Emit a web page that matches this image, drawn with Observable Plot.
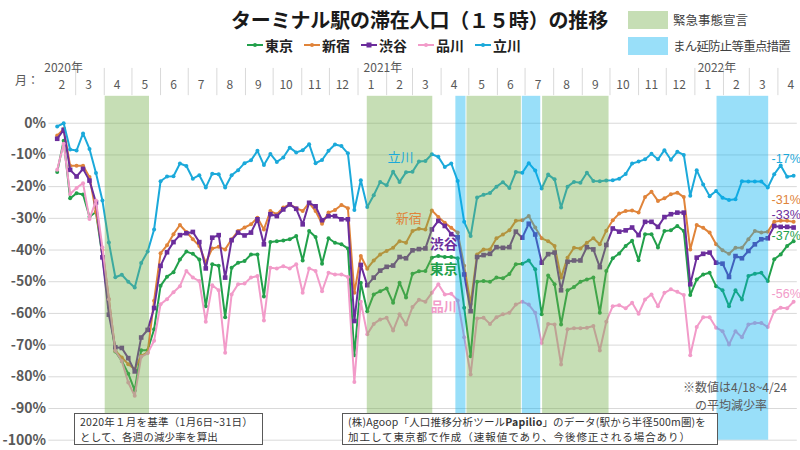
<!DOCTYPE html>
<html lang="ja"><head><meta charset="utf-8">
<script src="https://cdn.jsdelivr.net/npm/d3@7"></script>
<script src="https://cdn.jsdelivr.net/npm/@observablehq/plot@0.6"></script>
<style>
html,body{margin:0;padding:0;background:#fff;}
#wrap{position:relative;width:800px;height:450px;overflow:hidden;font-family:"Noto Sans CJK JP","Noto Sans",sans-serif;}
#chart{position:absolute;left:0;top:0;}
.ov{position:absolute;white-space:nowrap;line-height:1;}
.fit{display:inline-block;white-space:nowrap;}
.box{position:absolute;border:1px solid #595959;background:#fff;box-sizing:border-box;padding:0 0 0 5px;font-size:10.5px;color:#333;}
.box .fit{display:block;width:max-content;line-height:15.3px;height:15.3px;overflow:visible;}
#legend{display:flex;align-items:center;gap:11px;font-size:14px;font-weight:bold;color:#222;}
#legend .it{display:flex;align-items:center;}
#legend svg{margin-right:2px;}
.sw{position:absolute;width:40px;height:18px;}
.swt{position:absolute;font-size:12.5px;color:#404040;line-height:1;}
</style></head><body>
<div id="wrap">
  <div id="chart"></div>
  <div class="ov" style="left:231px;top:10px;font-size:20px;font-weight:bold;color:#1a1a1a;"><span class="fit" data-w="377">ターミナル駅の滞在人口（１５時）の推移</span></div>
  <div class="ov" id="legend" style="left:247px;top:38px;"></div>
  <div class="sw" style="left:628px;top:11px;background:rgba(112,173,71,0.4);"></div>
  <div class="swt" style="left:673px;top:14px;"><span class="fit" data-w="75">緊急事態宣言</span></div>
  <div class="sw" style="left:628px;top:37px;background:rgba(0,176,240,0.4);"></div>
  <div class="swt" style="left:673px;top:40px;"><span class="fit" data-w="117">まん延防止等重点措置</span></div>
  <div class="ov" style="left:15px;top:74px;font-size:12px;color:#595959;">月：</div>
  <div class="box" style="left:74px;top:413px;width:189px;height:32px;">
    <div class="fit" data-w="173">2020年１月を基準（1月6日~31日）</div>
    <div class="fit" data-w="138">として、各週の減少率を算出</div>
  </div>
  <div class="box" style="left:342px;top:413px;width:376px;height:32px;">
    <div class="fit" data-w="358"><span>(株)Agoop「人口推移分析ツール</span><b>Papilio</b><span>」のデータ(駅から半径500m圏)を</span></div>
    <div class="fit" data-w="343">加工して東京都で作成（速報値であり、今後修正される場合あり）</div>
  </div>
  <div class="ov" style="left:683px;top:378px;font-size:12px;line-height:17.5px;color:#595959;">※数値は4/18~4/24<br>　の平均減少率</div>
</div>
<script>
// ---- data (weekly, starting week of 2020-02-10, % change vs Jan 2020) ----
const seriesNames = ["東京", "新宿", "渋谷", "品川", "立川"];
const tokyo = [-15.4,-5.5,-23.7,-22.1,-22.5,-29.5,-28,-42,-58,-72,-75,-79,-84.3,-71.6,-71.6,-65,-51.3,-48.4,-47,
 -43,-40.5,-41.2,-43,-57.7,-44.5,-45,-61.2,-45.6,-44,-43.5,-41.4,-41.4,-54.7,-37.5,-37.2,-37,-36.6,-35.6,
 -43.3,-34,-35.9,-44.3,-36.3,-37.7,-38.2,-39.5,-73.2,-50.3,-59.3,-54,-53,-52.1,-56.6,-50.3,-55,-47.5,-46.7,
 -46.6,-42.4,-41.9,-42.2,-42.2,-42.6,-58.2,-73.5,-50,-49.8,-50,-48.7,-48.9,-47.6,-44.5,-44.3,-43.3,-46.1,-60.3,-48,
 -50.8,-63.5,-52.7,-51.7,-50,-49.3,-48.7,-59.8,-46.6,-42.6,-41.1,-38.7,-37.1,-43.2,-35,-35,-39.2,-34,-33.8,
 -32.4,-34,-54.2,-49.3,-47.7,-47.2,-51.4,-52.7,-57.7,-52.7,-55.6,-48.2,-47.5,-47.2,-49.8,-42.9,-41.4,-38.7,-37.2];
const shinjuku = [-3.9,-1.8,-13.4,-13.4,-13.4,-17,-28,-40,-55.5,-71.8,-73.9,-76,-77.6,-73.4,-72.3,-56,-41,-38.5,-35,
 -32.1,-34.3,-36.6,-38.7,-44,-39.5,-39,-39.8,-36.6,-34,-32.9,-31.9,-29.8,-33.5,-27.7,-28.7,-26.6,-25.6,-26.8,
 -27.7,-25.1,-27.7,-31.7,-28.2,-27.4,-25.8,-26.8,-53.5,-41.9,-45.9,-43.3,-41.4,-40.3,-39.3,-37.2,-37.7,-34,-33.3,
 -33.5,-27.5,-29.6,-31.4,-33,-34.5,-45,-57,-41.4,-39.8,-39.8,-36.3,-35.1,-33.8,-30.8,-30.6,-29.3,-32.9,-36.3,-37.2,
 -38.7,-48.7,-42.4,-39.3,-39.5,-37.7,-36.3,-38.2,-33.9,-30.6,-28.5,-27.7,-27.5,-28.2,-23.3,-21.6,-24.5,-23.7,-22.4,
 -21.9,-23.3,-39.8,-32.1,-33,-34.5,-38.2,-40.1,-41.2,-39.3,-39.3,-36.6,-34,-34.5,-34.2,-31.1,-30.8,-30.8,-31.1];
const shibuya = [-4.9,-2.1,-14.7,-16.8,-14.4,-18.1,-25,-42.3,-60.4,-70.7,-70.9,-74.1,-78.3,-67.6,-65.2,-58.3,-45,-40.7,-37.5,
 -35.3,-34.7,-34.3,-37.5,-45.8,-36.1,-35.3,-48.7,-36.9,-34.5,-35.4,-34.5,-30.3,-38.2,-28.7,-29.3,-27.2,-25.6,-27,
 -31.9,-25.1,-26.2,-30.6,-29.3,-29.3,-30.3,-30.3,-62.4,-44.7,-51.1,-48.7,-46.5,-45.3,-44.9,-42.2,-42.6,-40.1,-39.7,
 -39.5,-33.5,-30.8,-32.4,-35,-36,-47.7,-59.3,-42.2,-41.6,-41.2,-39.1,-39.3,-39.1,-34.2,-36.1,-31.7,-35.1,-44,-41.3,
 -40.8,-52.7,-43.7,-43.3,-43.3,-39.1,-39.8,-45.4,-38.4,-33.2,-34.2,-33.8,-32.9,-35.3,-31.1,-31.1,-32.7,-29.6,-28.7,
 -28.2,-28.2,-50.8,-42.4,-41.2,-40.8,-44,-44.3,-48.5,-41.9,-42.6,-40.3,-38.2,-36.6,-36.3,-32.4,-32.7,-32.7,-32.9];
const shinagawa = [-14.7,-6.5,-22.3,-20.4,-18.9,-30.2,-24.4,-39.2,-55.5,-71.8,-75,-81.8,-86,-73.7,-72.6,-68.6,-57.1,-55.5,-53.3,
 -51.4,-46.6,-48.7,-49.8,-62.6,-51.1,-52.7,-72.4,-54,-50.8,-50.6,-48.7,-48.2,-62.2,-45.6,-45.8,-45.1,-45.8,-44.5,
 -53.5,-45.8,-46.6,-53,-47.2,-47.7,-47.7,-48.5,-81.6,-56.3,-66.6,-63.3,-61.9,-61.4,-65.4,-60.3,-63.5,-58,-55.7,
 -56.3,-53.5,-50.8,-54,-53.8,-55.9,-67.5,-79.3,-61.6,-61.4,-63.3,-61.2,-60.3,-59.8,-57.2,-56.3,-57.2,-59.8,-69.3,-63.3,
 -63.5,-76.1,-65,-64.7,-64.7,-64.5,-64,-71.7,-62.6,-57.7,-57.4,-58.4,-56.6,-60.1,-55.6,-54,-57.7,-53.5,-52.4,
 -53.2,-54.2,-73.2,-64.3,-61.2,-61.2,-64.5,-65.6,-69.8,-65.6,-67.5,-63.5,-63,-63,-64.3,-59.3,-58.2,-58.4,-56.3];
const tachikawa = [-1,0,-8.3,-8.6,-3.2,-8.1,-15.7,-24.4,-37.6,-48.6,-47.8,-50,-51.8,-44.1,-40.5,-33.5,-18.3,-16.8,-16.7,
 -12.7,-13.5,-17.5,-16.4,-20.3,-15.9,-16.1,-20.3,-16.4,-14.8,-12.6,-11.7,-8.7,-13.2,-9.7,-12.2,-10.8,-7.7,-9.2,
 -8.5,-6.6,-12.6,-11.6,-8.7,-6.7,-7.2,-9.5,-27.4,-18,-26.4,-22.7,-18.5,-19.6,-15.3,-18.5,-15.5,-15.3,-12.1,
 -11.9,-9.8,-10.6,-13.8,-12.7,-18.2,-31.1,-35.6,-23.4,-22.6,-22,-20,-18.6,-20.4,-15.4,-15.6,-12.6,-14.9,-20.6,-16.2,
 -17.7,-26.6,-20,-18.5,-18.8,-15.6,-18.2,-18.3,-18.1,-18,-17.5,-16,-12.7,-12.1,-11.4,-9.6,-11.4,-8.5,-11.5,
 -9,-10,-22.9,-14.8,-19.3,-23,-21.4,-23.5,-24.2,-24,-18.3,-18.4,-18.4,-18.4,-20.3,-16.1,-13.3,-16.9,-16.6];
const firstWeek = "2020-02-10";

const bandTypes  = ["緊急事態宣言","緊急事態宣言","まん延防止等重点措置","緊急事態宣言","まん延防止等重点措置","緊急事態宣言","まん延防止等重点措置"];
const bandStarts = ["2020-04-02","2021-01-11","2021-04-17","2021-04-29","2021-06-28","2021-07-20","2022-01-25"];
const bandEnds   = ["2020-05-20","2021-03-23","2021-04-28","2021-06-27","2021-07-18","2021-09-30","2022-03-22"];

const yTicks = [0,-10,-20,-30,-40,-50,-60,-70,-80,-90,-100];
const yearLabels = ["2020年","2021年","2022年"];
const yearDates  = ["2020-01-27","2021-01-07","2022-01-04"];

const lineLabelNames  = ["立川","新宿","渋谷","東京","品川"];
const lineLabelDates  = ["2021-02-16","2021-02-25","2021-04-04","2021-04-04","2021-04-04"];
const lineLabelValues = [-10.8,-30.1,-38.3,-46.2,-57.8];

// ---- styles ----
const colors = {"東京":"#22a04b","新宿":"#e0843a","渋谷":"#6b2d9c","品川":"#f29bc9","立川":"#1ba9da"};
const symbols = {"東京":"circle","新宿":"circle","渋谷":"square","品川":"circle","立川":"circle"};
const endDy = {"東京":-5,"新宿":-22,"渋谷":-13,"品川":-8,"立川":-17};
const bandColor = {"緊急事態宣言":"#70ad47","まん延防止等重点措置":"#00b0f0"};
const labelStyle = {"立川":{fs:13,fw:"normal"},"新宿":{fs:13,fw:"normal"},"渋谷":{fs:14,fw:"bold"},"東京":{fs:14,fw:"bold"},"品川":{fs:13,fw:"bold"}};

const parse = d3.utcParse("%Y-%m-%d");
const start = parse(firstWeek);
const dates = d3.range(tokyo.length).map(i => d3.utcDay.offset(start, 7 * i));
const valuesBy = {"東京":tokyo,"新宿":shinjuku,"渋谷":shibuya,"品川":shinagawa,"立川":tachikawa};
const rowsBy = {};
for (const n of seriesNames) rowsBy[n] = valuesBy[n].map((v, i) => ({name: n, date: dates[i], value: v}));
const bands = bandTypes.map((t, i) => ({type: t, start: parse(bandStarts[i]), end: parse(bandEnds[i])}));
const months = d3.utcMonth.range(parse("2020-02-01"), parse("2022-05-01"));
const monthRows = months.map(m => ({date: d3.utcDay.offset(m, 14), label: String(m.getUTCMonth() + 1)}));
const separators = months.slice(1);
const yearRows = yearLabels.map((l, i) => ({label: l, date: parse(yearDates[i])}));
const lineLabels = lineLabelNames.map((n, i) => ({name: n, date: parse(lineLabelDates[i]), value: lineLabelValues[i]}));
const endRows = seriesNames.map(n => { const r = rowsBy[n][rowsBy[n].length - 1]; return {...r, label: Math.round(r.value) + "%"}; });

const font = "'Noto Sans CJK JP','Noto Sans',sans-serif";
const marks = [Plot.ruleY(yTicks, {stroke: "#d9d9d9", strokeWidth: 1})];
for (const n of seriesNames) {
  marks.push(Plot.line(rowsBy[n], {x: "date", y: "value", stroke: colors[n], strokeWidth: 2, strokeLinejoin: "round"}));
  marks.push(Plot.dot(rowsBy[n], {x: "date", y: "value", fill: colors[n], symbol: symbols[n], r: symbols[n] === "square" ? 2.6 : 2, stroke: "none"}));
}
marks.push(Plot.rect(bands, {x1: "start", x2: "end", fill: d => bandColor[d.type], fillOpacity: 0.4}));
marks.push(Plot.axisY(yTicks, {anchor: "left", tickFormat: d => d + "%", tickSize: 0, tickPadding: 3, fontSize: 14, fontWeight: "bold", color: "#595959", label: null}));
marks.push(Plot.ruleX(separators, {x: d => d, y1: 17.3, y2: 8.7, stroke: "#d9d9d9"}));
marks.push(Plot.text(monthRows, {x: "date", text: "label", frameAnchor: "top", dy: -15.8, fill: "#595959", fontSize: 12}));
marks.push(Plot.text(yearRows, {x: "date", text: "label", frameAnchor: "top", dy: -32.8, textAnchor: "start", fill: "#595959", fontSize: 12}));
for (const l of lineLabels) {
  marks.push(Plot.text([l], {x: "date", y: "value", text: "name", fill: colors[l.name], fontSize: labelStyle[l.name].fs, fontWeight: labelStyle[l.name].fw}));
}
for (const r of endRows) {
  marks.push(Plot.text([r], {x: "date", y: "value", text: "label", dx: -22, dy: endDy[r.name], textAnchor: "start", fill: colors[r.name], fontSize: 12.5, fontFamily: "'Liberation Sans',Arial,sans-serif"}));
}

const chart = Plot.plot({
  width: 800, height: 450,
  marginLeft: 48.4, marginRight: 3.2, marginTop: 95.8, marginBottom: 10.3,
  x: {type: "utc", domain: [parse("2020-02-01"), parse("2022-04-22")], axis: null},
  y: {domain: [-100, 8.5], axis: null},
  style: {fontFamily: font, background: "transparent", overflow: "visible"},
  marks
});
document.getElementById("chart").appendChild(chart);

// legend of series
const leg = document.getElementById("legend");
for (const n of seriesNames) {
  const it = document.createElement("span"); it.className = "it";
  const mk = symbols[n] === "square"
    ? `<rect x="5.5" y="2.5" width="5" height="5" fill="${colors[n]}"/>`
    : `<circle cx="8" cy="5" r="2" fill="${colors[n]}"/>`;
  it.innerHTML = `<svg width="16" height="10"><line x1="0" x2="16" y1="5" y2="5" stroke="${colors[n]}" stroke-width="2"/>${mk}</svg><span class="fit" data-w="28">${n}</span>`;
  leg.appendChild(it);
}
// fit text widths to the reference
document.querySelectorAll(".fit[data-w]").forEach(el => {
  el.style.letterSpacing = "0px";
  const n = [...el.textContent.trim()].length;
  const w = el.getBoundingClientRect().width;
  el.style.letterSpacing = ((+el.dataset.w - w) / n) + "px";
});
</script>
</body></html>
